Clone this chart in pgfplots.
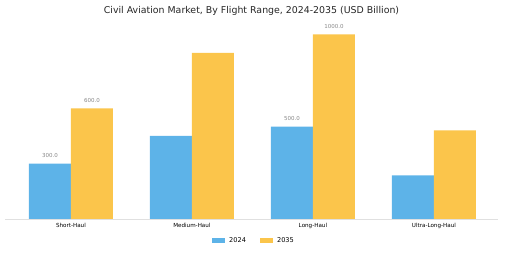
\documentclass[border=0pt]{standalone}
\usepackage{fontspec}
\setmainfont{DejaVu Sans}
\usepackage{pgfplots}
\pgfplotsset{compat=1.18}
\definecolor{cblue}{HTML}{5DB3E8}
\definecolor{cyel}{HTML}{FBC54B}
\definecolor{cgray}{HTML}{888888}
\begin{document}
\begin{tikzpicture}
\useasboundingbox (-5pt,-34pt) rectangle (500pt,219pt);
\begin{axis}[
  at={(0,0)}, anchor=south west,
  scale only axis, width=493pt, height=189pt,
  xmin=-0.545, xmax=3.53, ymin=0, ymax=1024,
  axis y line=none, axis x line*=bottom,
  x axis line style={draw=black!12, line width=0.6pt, -},
  xtick={0,1,2,3}, xticklabels={Short-Haul,Medium-Haul,Long-Haul,Ultra-Long-Haul},
  major tick length=0pt,
  xticklabel style={font=\fontsize{5.6}{6.5}\selectfont, yshift=-1pt},
  /pgf/number format/assume math mode=true,
  title={Civil Aviation Market, By Flight Range, 2024-2035 (USD Billion)},
  title style={at={(axis description cs:0.5,1)}, anchor=center, yshift=13pt, font=\fontsize{9.4}{11}\selectfont, text=black!85},
  legend style={at={(axis description cs:0.505,-0.118)}, anchor=center, draw=none, legend columns=2,
    font=\fontsize{6.6}{8}\selectfont, column sep=2pt,
    /tikz/every even column/.append style={column sep=12pt}},
  legend image code/.code={\fill[#1] (0cm,-0.06cm) rectangle (0.46cm,0.11cm);},
  nodes near coords, point meta=explicit symbolic,
  every node near coord/.append style={font=\fontsize{5.5}{6.5}\selectfont, text=cgray, anchor=south, yshift=2.5pt},
]
\addplot[ybar, bar width=42pt, bar shift=-21pt, fill=cblue, draw=none,
  nodes near coords style={xshift=-21pt}] coordinates {(0,300)[300.0] (1,450)[] (2,500)[500.0] (3,237)[]};
\addplot[ybar, bar width=42pt, bar shift=21pt, fill=cyel, draw=none,
  nodes near coords style={xshift=21pt}] coordinates {(0,600)[600.0] (1,900)[] (2,1000)[1000.0] (3,480)[]};
\legend{2024,2035}
\end{axis}
\end{tikzpicture}
\end{document}
